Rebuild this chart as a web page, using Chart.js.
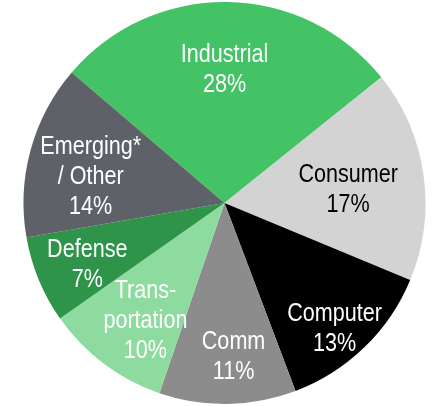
<!doctype html>
<html>

<head>
	<title>Market share by segment</title>
	<style>
		html, body {
			margin: 0;
			padding: 0;
			background: #fff;
		}

		#wrap {
			width: 434px;
			height: 406px;
		}
	</style>
	<script src="https://cdn.jsdelivr.net/npm/chart.js@4.4.0/dist/chart.umd.min.js"></script>
</head>

<body>
	<div id="wrap"><canvas id="segments" width="434" height="406"></canvas></div>
	<script>
		"use strict";
		// segments, clockwise from the top-left
		const segments = ["Industrial", "Consumer", "Computer", "Comm", "Trans-\nportation", "Defense", "Emerging*\n/ Other"];
		const shares = [28, 17, 13, 11, 10, 7, 14];

		const colors = ["#43c366", "#d3d3d3", "#000000", "#8c8c8c", "#8edba0", "#2e9449", "#5f6168"];
		const text_colors = ["#fff", "#000", "#fff", "#fff", "#fff", "#fff", "#fff"];
		// label placement: fraction of radius, and nudge (degrees) off the slice middle
		const label_radius = [0.67, 0.62, 0.825, 0.76, 0.70, 0.745, 0.68];
		const label_nudge = [-0.9, 1, 2.5, -2.5, -2.7, -1.1, -3.5];

		// narrow-looking labels: regular sans squeezed horizontally
		const SQUEEZE = 0.83;

		const slice_labels = {
			id: "slice_labels",
			afterDatasetsDraw(chart) {
				const ctx = chart.ctx;
				const meta = chart.getDatasetMeta(0);
				ctx.save();
				ctx.font = "26px 'Liberation Sans', Arial, sans-serif";
				ctx.textAlign = "center";
				ctx.textBaseline = "alphabetic";
				meta.data.forEach((arc, i) => {
					const p = arc.getProps(["x", "y", "startAngle", "endAngle", "outerRadius"], true);
					const mid = (p.startAngle + p.endAngle) / 2 + label_nudge[i] * Math.PI / 180;
					const r = p.outerRadius * label_radius[i];
					const cx = p.x + Math.cos(mid) * r;
					const cy = p.y + Math.sin(mid) * r;
					const lines = segments[i].split("\n").concat([shares[i] + "%"]);
					const first = cy - (lines.length - 1) * 15 + 9;
					ctx.fillStyle = text_colors[i];
					lines.forEach((line, j) => {
						ctx.save();
						ctx.translate(cx, first + j * 30);
						ctx.scale(SQUEEZE, 1);
						ctx.fillText(line, 0, 0);
						ctx.restore();
					});
				});
				ctx.restore();
			}
		};

		const chart = new Chart(document.getElementById("segments"), {
			type: "pie",
			data: {
				labels: segments,
				datasets: [{
					data: shares,
					backgroundColor: colors,
					borderWidth: 0
				}]
			},
			options: {
				responsive: false,
				animation: false,
				rotation: -49.5,
				layout: {
					padding: { left: 23, right: 8, top: 2, bottom: 2 }
				},
				plugins: {
					legend: { display: false },
					tooltip: { enabled: false }
				}
			},
			plugins: [slice_labels]
		});
	</script>
</body>

</html>
